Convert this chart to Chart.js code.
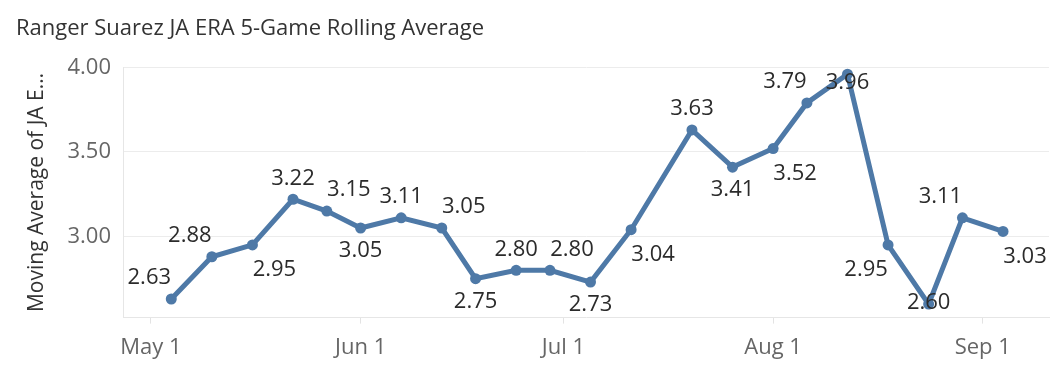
<!DOCTYPE html>
<html>
<head>
<meta charset="utf-8">
<title>Ranger Suarez JA ERA</title>
<script src="https://cdn.jsdelivr.net/npm/chart.js@4.4.1/dist/chart.umd.min.js"></script>
<style>
  html, body { margin: 0; padding: 0; background: #fff; }
  #wrap { width: 1060px; height: 380px; }
</style>
</head>
<body>
<div id="wrap"><canvas id="grafico" width="1060" height="380"></canvas></div>
<script>
// datos
const gameDates = ['May 4', 'May 10', 'May 16', 'May 22', 'May 27', 'Jun 1', 'Jun 7', 'Jun 13',
                   'Jun 18', 'Jun 24', 'Jun 29', 'Jul 5', 'Jul 11', 'Jul 20', 'Jul 26', 'Aug 1',
                   'Aug 6', 'Aug 12', 'Aug 18', 'Aug 24', 'Aug 29', 'Sep 4'];
const eraValues = [2.63, 2.88, 2.95, 3.22, 3.15, 3.05, 3.11, 3.05, 2.75, 2.80, 2.80,
                   2.73, 3.04, 3.63, 3.41, 3.52, 3.79, 3.96, 2.95, 2.60, 3.11, 3.03];
const monthTicks = [0, 31, 61, 92, 123];
const monthLabels = ['May 1', 'Jun 1', 'Jul 1', 'Aug 1', 'Sep 1'];
const yTicks = [3.00, 3.50, 4.00];

// donde va cada etiqueta respecto a su punto
const labelSpots = ['tl', 'tl', 'br', 't', 'tr', 'b', 't', 'tr', 'b', 't', 'tr',
                    'b', 'br', 't', 'b', 'br', 'tl', 'in', 'bl', 'c', 'tl', 'br'];
const offsets = {
    tl: [-22, -21], t: [0, -21], tr: [22, -21],
    bl: [-22, 25], b: [0, 23], br: [22, 25],
    c: [0, -1], in: [0, 9]
};

// dias desde el 1 de mayo
const monthStart = { May: 0, Jun: 31, Jul: 61, Aug: 92, Sep: 123 };
function diaDe(txt) {
    const partes = txt.split(' ');
    return monthStart[partes[0]] + Number(partes[1]) - 1;
}

const puntos = gameDates.map((d, i) => ({ x: diaDe(d), y: eraValues[i] }));

const FUENTE = '"Open Sans", "Noto Sans", sans-serif';
const AZUL = '#4e79a7';

const etiquetas = {
    id: 'etiquetas',
    afterDatasetsDraw(chart) {
        const ctx = chart.ctx;
        const meta = chart.getDatasetMeta(0);
        ctx.save();
        ctx.font = '22px ' + FUENTE;
        ctx.fillStyle = '#2b2b2b';
        ctx.textAlign = 'center';
        ctx.textBaseline = 'middle';
        meta.data.forEach((pt, i) => {
            const off = offsets[labelSpots[i]];
            ctx.fillText(eraValues[i].toFixed(2), pt.x + off[0], pt.y + off[1]);
        });
        ctx.restore();
    }
};

new Chart(document.getElementById('grafico').getContext('2d'), {
    type: 'line',
    data: {
        datasets: [{
            data: puntos,
            borderColor: AZUL,
            backgroundColor: AZUL,
            borderWidth: 5,
            pointRadius: 5.5,
            pointHoverRadius: 5.5,
            pointBorderWidth: 0,
            tension: 0
        }]
    },
    options: {
        responsive: false,
        animation: false,
        devicePixelRatio: 1,
        layout: { padding: { left: 16, right: 11, top: 0, bottom: 8 } },
        plugins: {
            legend: { display: false },
            tooltip: { enabled: false },
            title: {
                display: true,
                text: 'Ranger Suarez JA ERA 5-Game Rolling Average',
                align: 'start',
                color: '#333333',
                font: { family: FUENTE, size: 22, weight: 'normal' },
                padding: { top: 16, bottom: 25 }
            }
        },
        scales: {
            x: {
                type: 'linear',
                min: -4.14,
                max: 132.8,
                afterBuildTicks: (axis) => {
                    axis.ticks = monthTicks.map(v => ({ value: v }));
                },
                ticks: {
                    color: '#666666',
                    font: { family: FUENTE, size: 22 },
                    padding: 11,
                    maxRotation: 0,
                    callback: (v) => monthLabels[monthTicks.indexOf(v)]
                },
                grid: {
                    drawOnChartArea: false,
                    drawTicks: true,
                    tickLength: 6,
                    color: '#e3e3e3'
                },
                border: { display: true, color: '#e6e6e6', width: 1 }
            },
            y: {
                min: 2.52,
                max: 4.0,
                afterBuildTicks: (axis) => {
                    axis.ticks = yTicks.map(v => ({ value: v }));
                },
                afterFit: (axis) => { axis.width = 107; },
                ticks: {
                    color: '#666666',
                    font: { family: FUENTE, size: 22 },
                    padding: 12,
                    callback: (v) => v.toFixed(2)
                },
                grid: {
                    drawTicks: false,
                    color: '#ececec'
                },
                border: { display: true, color: '#e6e6e6', width: 1 },
                title: {
                    display: true,
                    text: 'Moving Average of JA E\u2026',
                    color: '#333333',
                    font: { family: FUENTE, size: 21 },
                    padding: { top: 8, bottom: 0 }
                }
            }
        }
    },
    plugins: [etiquetas]
});
</script>
</body>
</html>
